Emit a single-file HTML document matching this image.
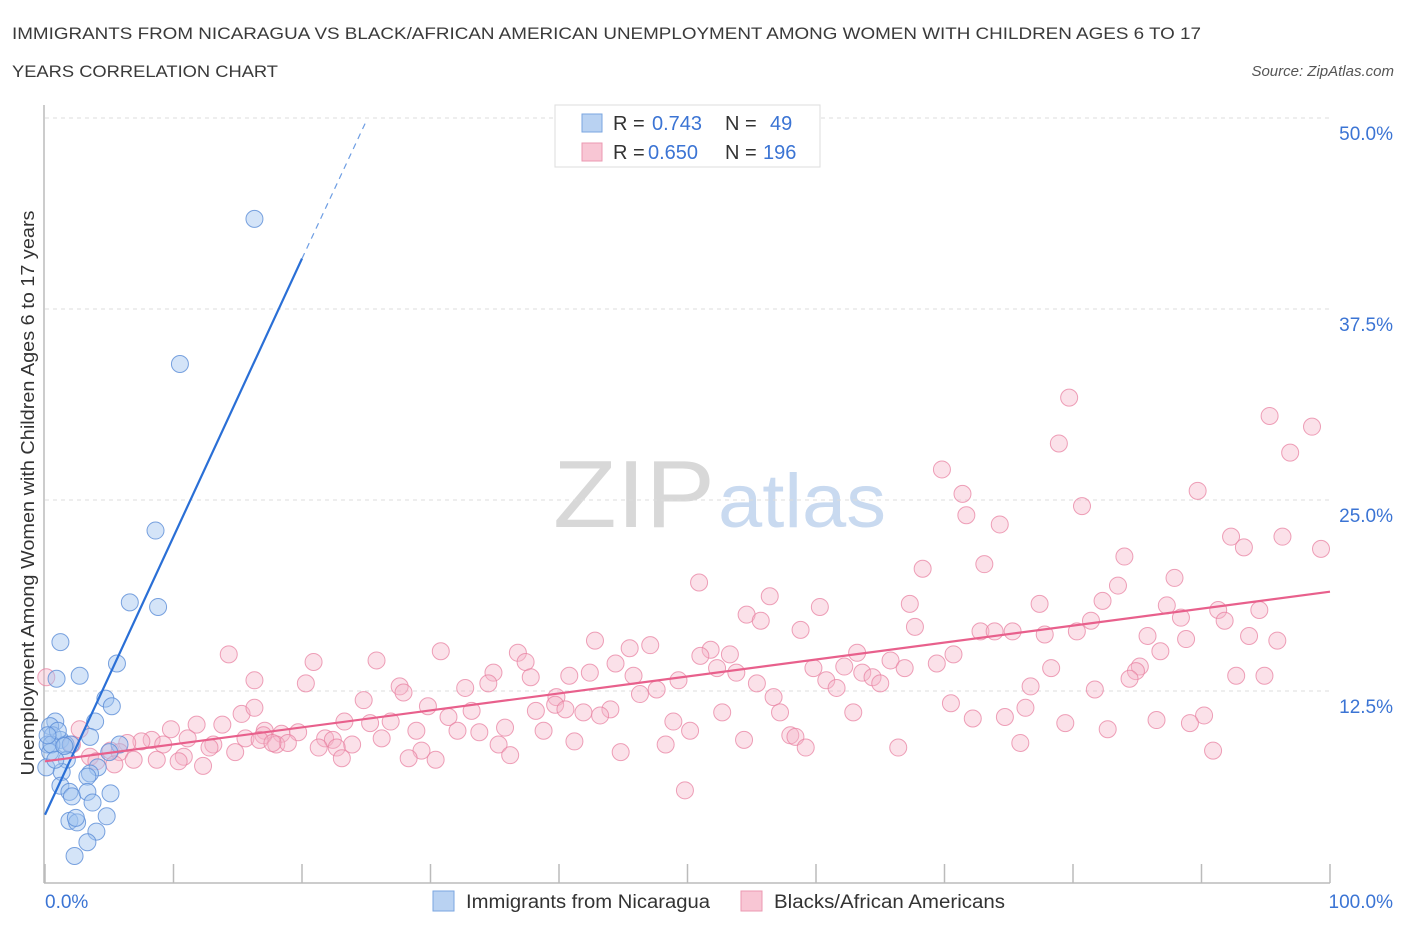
<!DOCTYPE html>
<html><head><meta charset="utf-8"><style>
body{margin:0;background:#fff;font-family:"Liberation Sans",sans-serif;}
svg text{font-family:"Liberation Sans",sans-serif;}
</style></head><body>
<svg id="chart" width="1406" height="930" viewBox="0 0 1406 930">
<text x="12" y="39" font-size="17" textLength="1189" lengthAdjust="spacingAndGlyphs" fill="#3a3a3a">IMMIGRANTS FROM NICARAGUA VS BLACK/AFRICAN AMERICAN UNEMPLOYMENT AMONG WOMEN WITH CHILDREN AGES 6 TO 17</text>
<text x="12" y="77" font-size="17" textLength="266" lengthAdjust="spacingAndGlyphs" fill="#3a3a3a">YEARS CORRELATION CHART</text>
<text x="1394" y="76" font-size="15" fill="#555" font-style="italic" text-anchor="end">Source: ZipAtlas.com</text>
<g>
<text x="553" y="527" font-size="96" textLength="162" lengthAdjust="spacingAndGlyphs" fill="#d8d8d8" font-family="Liberation Serif, serif">ZIP</text>
<text x="718" y="527" font-size="76" textLength="168" lengthAdjust="spacingAndGlyphs" fill="#c9daf0">atlas</text>
</g>
<g id="grid"></g>
<g id="axes"></g>
<g id="points"></g>
<g id="lines"></g>
<text transform="translate(34,493) rotate(-90)" font-size="18" textLength="565" lengthAdjust="spacingAndGlyphs" fill="#333" text-anchor="middle">Unemployment Among Women with Children Ages 6 to 17 years</text>
<text x="45" y="908" font-size="19" fill="#3b74d4">0.0%</text>
<text x="1393" y="908" font-size="19" fill="#3b74d4" text-anchor="end">100.0%</text>
<g>
<rect x="555" y="105" width="265" height="62" fill="#fff" stroke="#ddd"/>
<rect x="582" y="114" width="20" height="18" fill="#b9d2f2" stroke="#7aa6e0"/>
<text x="613" y="130" font-size="20" fill="#333">R = <tspan fill="#3b74d4" x="652">0.743</tspan><tspan x="725">N = </tspan><tspan fill="#3b74d4" x="770">49</tspan></text>
<rect x="582" y="143" width="20" height="18" fill="#f8c6d4" stroke="#eb98b2"/>
<text x="613" y="159" font-size="20" fill="#333">R = <tspan fill="#3b74d4" x="648">0.650</tspan><tspan x="725">N = </tspan><tspan fill="#3b74d4" x="763">196</tspan></text>
</g>
<g>
<rect x="433" y="891" width="21" height="20" fill="#b9d2f2" stroke="#7aa6e0"/>
<text x="466" y="908" font-size="19" textLength="244" lengthAdjust="spacingAndGlyphs" fill="#333">Immigrants from Nicaragua</text>
<rect x="741" y="891" width="21" height="20" fill="#f8c6d4" stroke="#eb98b2"/>
<text x="774" y="908" font-size="19" textLength="231" lengthAdjust="spacingAndGlyphs" fill="#333">Blacks/African Americans</text>
</g>
</svg>
<script>
const yTicks=[12.5,25,37.5,50];
const yTickLabels=["12.5%","25.0%","37.5%","50.0%"];
const xTicks=[0,10,20,30,40,50,60,70,80,90,100];
const blueX=[16.3,10.5,8.6,6.6,8.8,1.2,5.6,0.9,2.7,4.7,5.2,0.8,3.9,0.4,0.6,3.5,1.2,1.6,0.2,2.0,0.4,5.8,5.0,0.1,1.7,1.3,4.1,3.5,3.3,1.2,1.9,2.1,3.3,5.1,3.7,1.9,2.5,2.4,4.8,4.0,3.3,2.3,0.5,1.0,1.5,0.2,0.8];
const blueY=[43.4,33.9,23.0,18.3,18.0,15.7,14.3,13.3,13.5,12.0,11.5,10.5,10.5,10.2,9.6,9.5,9.3,9.0,9.0,9.0,8.5,9.0,8.5,7.5,8.0,7.2,7.5,7.1,6.9,6.3,5.9,5.6,5.9,5.8,5.2,4.0,3.9,4.2,4.3,3.3,2.6,1.7,9.0,9.9,8.9,9.6,8.0];
const pinkX=[79.7,95.3,98.6,78.9,96.9,69.8,71.4,89.7,71.7,80.7,74.3,92.3,96.3,93.3,99.3,84.0,73.1,68.3,50.9,87.9,83.5,56.4,82.3,67.3,77.4,87.3,94.5,54.6,60.3,91.3,88.4,55.7,81.4,91.8,58.8,67.7,72.8,73.9,75.3,77.8,80.3,85.8,88.8,93.7,95.9,42.8,47.1,45.5,51.8,36.8,30.8,14.3,51.0,53.3,63.2,70.7,86.8,20.9,25.8,37.4,44.4,52.3,59.8,62.2,65.8,69.4,85.2,84.9,34.9,37.8,40.8,42.4,45.8,49.3,53.8,63.6,64.4,66.9,78.3,84.4,92.7,94.9,20.3,34.5,32.7,27.6,47.6,55.4,60.8,61.6,65.0,76.7,81.7,16.3,24.8,27.9,39.8,39.7,46.3,56.7,29.8,31.4,33.2,38.2,40.5,41.9,44.0,43.2,52.7,57.2,62.9,70.5,76.3,90.2,89.1,15.3,16.3,72.2,74.7,79.4,86.5,82.7,9.8,11.8,13.8,23.3,25.3,26.9,28.9,32.1,33.8,35.8,38.8,48.9,50.2,17.1,18.4,19.7,21.8,22.4,17.0,15.6,11.1,8.3,7.5,6.4,9.2,13.1,16.7,18.0,18.9,26.2,23.9,41.2,54.4,58.0,58.4,35.3,48.3,22.7,21.3,17.7,12.8,14.8,5.1,5.8,10.8,8.7,6.9,5.4,3.5,2.7,2.1,0.1,29.3,44.8,59.2,66.4,75.9,90.9,36.2,23.1,28.3,30.4,12.3,10.4,49.8,4.0];
const pinkY=[31.7,30.5,29.8,28.7,28.1,27.0,25.4,25.6,24.0,24.6,23.4,22.6,22.6,21.9,21.8,21.3,20.8,20.5,19.6,19.9,19.4,18.7,18.4,18.2,18.2,18.1,17.8,17.5,18.0,17.8,17.3,17.1,17.1,17.1,16.5,16.7,16.4,16.4,16.4,16.2,16.4,16.1,15.9,16.1,15.8,15.8,15.5,15.3,15.2,15.0,15.1,14.9,14.8,14.9,15.0,14.9,15.1,14.4,14.5,14.4,14.3,14.0,14.0,14.1,14.5,14.3,14.1,13.8,13.7,13.4,13.5,13.7,13.5,13.2,13.7,13.7,13.4,14.0,14.0,13.3,13.5,13.5,13.0,13.0,12.7,12.8,12.6,13.0,13.2,12.7,13.0,12.8,12.6,13.2,11.9,12.4,12.1,11.6,12.3,12.1,11.5,10.8,11.2,11.2,11.3,11.1,11.3,10.9,11.1,11.1,11.1,11.7,11.4,10.9,10.4,11.0,11.4,10.7,10.8,10.4,10.6,10.0,10.0,10.3,10.3,10.5,10.4,10.5,9.9,9.9,9.8,10.1,9.9,10.5,9.9,9.9,9.7,9.8,9.4,9.3,9.6,9.4,9.4,9.3,9.2,9.1,9.0,9.0,9.3,9.0,9.1,9.4,9.0,9.2,9.3,9.6,9.5,9.0,9.0,8.8,8.8,9.1,8.8,8.5,8.6,8.5,8.2,8.0,8.0,7.7,8.2,10.0,9.0,13.4,8.6,8.5,8.8,8.8,9.1,8.6,8.3,8.1,8.1,8.0,7.6,7.9,6.0,7.9];
const blueTrend=[[0,4.4],[20,40.8]];
const blueTrendDash=[[20,40.8],[25,49.8]];
const pinkTrend=[[0,7.9],[100,19.0]];
const NS="http://www.w3.org/2000/svg";
const X0=45,X1=1330,Y0=882,PX_PER=15.28;
function sx(v){return X0+(X1-X0)*v/100;}
function sy(v){return Y0-v*PX_PER;}
function mk(tag,attrs,parent){const e=document.createElementNS(NS,tag);for(const k in attrs)e.setAttribute(k,attrs[k]);parent.appendChild(e);return e;}
const grid=document.getElementById('grid'),axes=document.getElementById('axes'),pts=document.getElementById('points'),lines=document.getElementById('lines');
yTicks.forEach((t,i)=>{
 const l=mk('line',{x1:X0,x2:X1,y1:sy(t),y2:sy(t),stroke:'#ddd','stroke-dasharray':'4,4'},grid);
 
 
 const tx=mk('text',{x:1393,y:sy(t)+22,'font-size':19,fill:'#3b74d4','text-anchor':'end'},grid);
 tx.textContent=yTickLabels[i];
 
 
});
const ya=mk('line',{x1:44,x2:44,y1:105,y2:883,stroke:'#bbb','stroke-width':1.5},axes);


const xa=mk('line',{x1:44,x2:X1,y1:883,y2:883,stroke:'#bbb','stroke-width':1.5},axes);


xTicks.forEach(t=>{
 const l=mk('line',{x1:sx(t),x2:sx(t),y1:864,y2:883,stroke:'#bbb','stroke-width':1.5},axes);
 
 
});
pinkX.forEach((x,i)=>{
 const c=mk('circle',{cx:sx(x),cy:sy(pinkY[i]),r:8.5,fill:'rgba(246,180,200,0.4)',stroke:'rgba(232,130,162,0.75)','stroke-width':1},pts);
 
 
});
blueX.forEach((x,i)=>{
 const c=mk('circle',{cx:sx(x),cy:sy(blueY[i]),r:8.5,fill:'rgba(160,195,240,0.45)',stroke:'rgba(90,140,215,0.8)','stroke-width':1},pts);
 
 
});
const bl=mk('line',{x1:sx(blueTrend[0][0]),y1:sy(blueTrend[0][1]),x2:sx(blueTrend[1][0]),y2:sy(blueTrend[1][1]),stroke:'#2a6fd6','stroke-width':2.2},lines);


const bd=mk('line',{x1:sx(blueTrendDash[0][0]),y1:sy(blueTrendDash[0][1]),x2:sx(blueTrendDash[1][0]),y2:sy(blueTrendDash[1][1]),stroke:'#6d9de3','stroke-width':1.2,'stroke-dasharray':'6,5'},lines);


const pl=mk('line',{x1:sx(pinkTrend[0][0]),y1:sy(pinkTrend[0][1]),x2:sx(pinkTrend[1][0]),y2:sy(pinkTrend[1][1]),stroke:'#e8608c','stroke-width':2.2},lines);


</script>
</body></html>
